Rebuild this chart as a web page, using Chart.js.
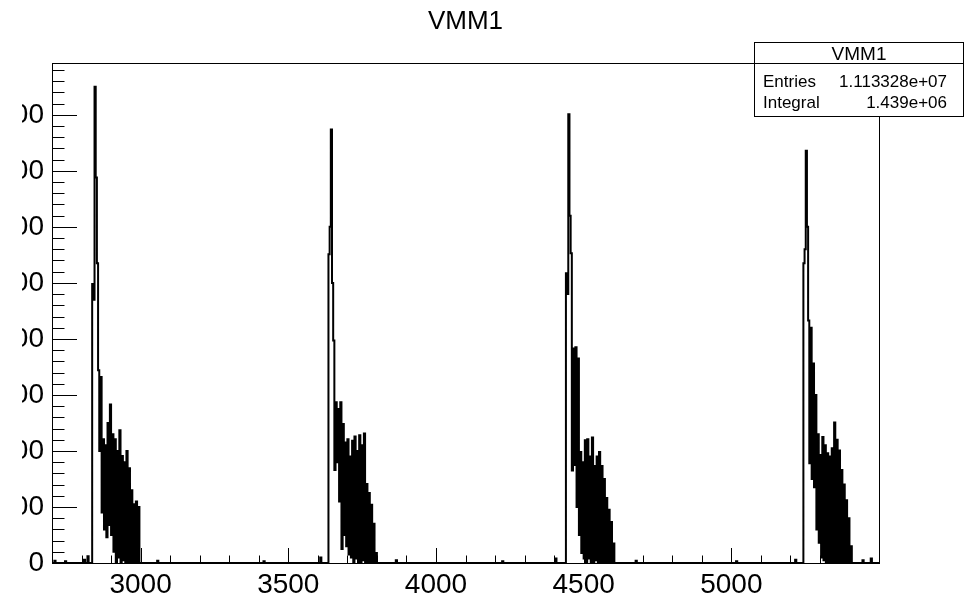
<!DOCTYPE html>
<html>
<head>
<meta charset="utf-8">
<script src="https://cdn.jsdelivr.net/npm/chart.js@4"></script>
<style>
  html, body { margin: 0; padding: 0; background: #fff; }
  #wrap { position: absolute; left: 22px; top: 0; width: 955px; height: 595px; overflow: hidden; }
</style>
</head>
<body>
<div id="wrap"><canvas id="histo" width="955" height="595"></canvas></div>
<script>
// axis range and ticks
const xRange = [2700, 5500];
const yRange = [0, 892.5];
const xTickValues = [3000, 3500, 4000, 4500, 5000];
const yTickValues = [0, 100, 200, 300, 400, 500, 600, 700, 800];

// histogram bins (width 4), one array per burst
const binWidth = 4;
const burstStarts = [2840, 3640, 4444, 5248];
const burst1 = [498, 470, 850, 688, 535, 344, 200, 332, 90, 221, 60, 210, 46, 250, 68, 283, 50, 230, 20, 221,
  0, 200, 10, 237, 0, 191, 5, 180, 0, 200, 0, 169, 0, 130, 0, 105, 0, 110, 0, 100, 0];
const burst2 = [551, 600, 774, 500, 397, 166, 287, 180, 275, 110, 287, 25, 248, 50, 215, 30, 221, 15, 190, 10,
  218, 0, 226, 8, 200, 0, 228, 0, 210, 5, 231, 0, 141, 0, 125, 0, 104, 0, 70, 0, 18];
const burst3 = [517, 480, 801, 620, 553, 165, 383, 175, 385, 100, 365, 50, 198, 18, 180, 8, 219, 0, 221, 8,
  190, 0, 224, 0, 173, 5, 190, 0, 198, 0, 173, 0, 150, 0, 116, 0, 95, 0, 73, 0, 35];
const burst4 = [535, 560, 736, 600, 433, 178, 420, 150, 356, 135, 300, 60, 230, 36, 193, 10, 225, 5, 210, 0,
  196, 0, 190, 0, 205, 0, 251, 0, 220, 0, 201, 0, 166, 0, 140, 0, 112, 0, 80, 0, 30];
const bursts = [burst1, burst2, burst3, burst4];

// a few small counts on the baseline
const blipX = [2712, 2748, 2812, 2824, 3060, 3420, 3612, 3868, 4228, 4408, 4680, 5020, 5220, 5448, 5476];
const blipY = [4, 3, 6, 12, 4, 3, 10, 5, 3, 8, 4, 3, 6, 5, 8];

// stats box text
const statsTitle = 'VMM1';
const statsLabels = ['Entries', 'Integral'];
const statsValues = ['1.113328e+07', '1.439e+06'];

const FONT = "'Liberation Sans', Arial, Helvetica, sans-serif";

// build the bin contents
const counts = new Map();
blipX.forEach((x, i) => counts.set(x, blipY[i]));
bursts.forEach((b, k) => {
  b.forEach((v, i) => counts.set(burstStarts[k] + i * binWidth, v));
});
const points = [];
for (let x = xRange[0]; x <= xRange[1]; x += binWidth) {
  points.push({ x: x, y: counts.get(x) || 0 });
}

// frame, inward ticks and stats box, ROOT style
const rootFrame = {
  id: 'rootFrame',
  afterDraw(chart) {
    const ctx = chart.ctx;
    const a = chart.chartArea;
    const xs = chart.scales.x;
    const ys = chart.scales.y;
    ctx.save();
    ctx.strokeStyle = '#000';
    ctx.lineWidth = 1;
    ctx.strokeRect(Math.round(a.left) + 0.5, Math.round(a.top) + 0.5,
      Math.round(a.right - a.left), Math.round(a.bottom - a.top));

    ctx.beginPath();
    for (let v = xRange[0]; v <= xRange[1]; v += 100) {
      const px = Math.round(xs.getPixelForValue(v)) + 0.5;
      const len = v % 500 === 0 ? 15 : 7.5;
      ctx.moveTo(px, a.bottom);
      ctx.lineTo(px, a.bottom - len);
    }
    for (let v = yRange[0]; v <= yRange[1]; v += 20) {
      const py = Math.round(ys.getPixelForValue(v)) + 0.5;
      const len = v % 100 === 0 ? 25 : 12.5;
      ctx.moveTo(a.left, py);
      ctx.lineTo(a.left + len, py);
    }
    ctx.stroke();

    // stats box
    const bx = 732.5, by = 42.5, bw = 209, bh = 74;
    ctx.fillStyle = '#fff';
    ctx.fillRect(bx, by, bw, bh);
    ctx.strokeRect(bx, by, bw, bh);
    ctx.beginPath();
    ctx.moveTo(bx, 63.5);
    ctx.lineTo(bx + bw, 63.5);
    ctx.stroke();
    ctx.fillStyle = '#000';
    ctx.textBaseline = 'alphabetic';
    ctx.font = '19px ' + FONT;
    ctx.textAlign = 'center';
    ctx.fillText(statsTitle, bx + bw / 2, 60);
    ctx.font = '17px ' + FONT;
    const rowY = [87, 108];
    statsLabels.forEach((t, i) => {
      ctx.textAlign = 'left';
      ctx.fillText(t, 741, rowY[i]);
      ctx.textAlign = 'right';
      ctx.fillText(statsValues[i], 925, rowY[i]);
    });
    ctx.restore();
  }
};

new Chart(document.getElementById('histo'), {
  type: 'line',
  data: {
    datasets: [{
      label: 'VMM1',
      data: points,
      stepped: 'after',
      borderColor: '#000',
      borderWidth: 2,
      pointRadius: 0,
      fill: false
    }]
  },
  options: {
    responsive: false,
    animation: false,
    devicePixelRatio: 1,
    layout: { padding: { left: 0, right: 98, top: 0, bottom: 0 } },
    plugins: {
      legend: { display: false },
      tooltip: { enabled: false },
      title: {
        display: true,
        text: 'VMM1',
        fullSize: false,
        color: '#000',
        font: { family: FONT, size: 26, weight: 'normal' },
        padding: { top: 6, bottom: 25.8 }
      }
    },
    scales: {
      x: {
        type: 'linear',
        min: xRange[0],
        max: xRange[1],
        grid: { display: false, drawTicks: false },
        border: { display: false },
        afterBuildTicks: (scale) => { scale.ticks = xTickValues.map(v => ({ value: v })); },
        afterFit: (scale) => { scale.height = 32; },
        ticks: {
          padding: 5,
          maxRotation: 0,
          autoSkip: false,
          color: '#000',
          font: { family: FONT, size: 28 },
          callback: (v) => String(v)
        }
      },
      y: {
        type: 'linear',
        min: yRange[0],
        max: yRange[1],
        grid: { display: false, drawTicks: false },
        border: { display: false },
        afterBuildTicks: (scale) => { scale.ticks = yTickValues.map(v => ({ value: v })); },
        afterFit: (scale) => { scale.width = 30; },
        ticks: {
          padding: 8,
          autoSkip: false,
          color: '#000',
          font: { family: FONT, size: 28 },
          callback: (v) => String(v)
        }
      }
    }
  },
  plugins: [rootFrame]
});
</script>
</body>
</html>
